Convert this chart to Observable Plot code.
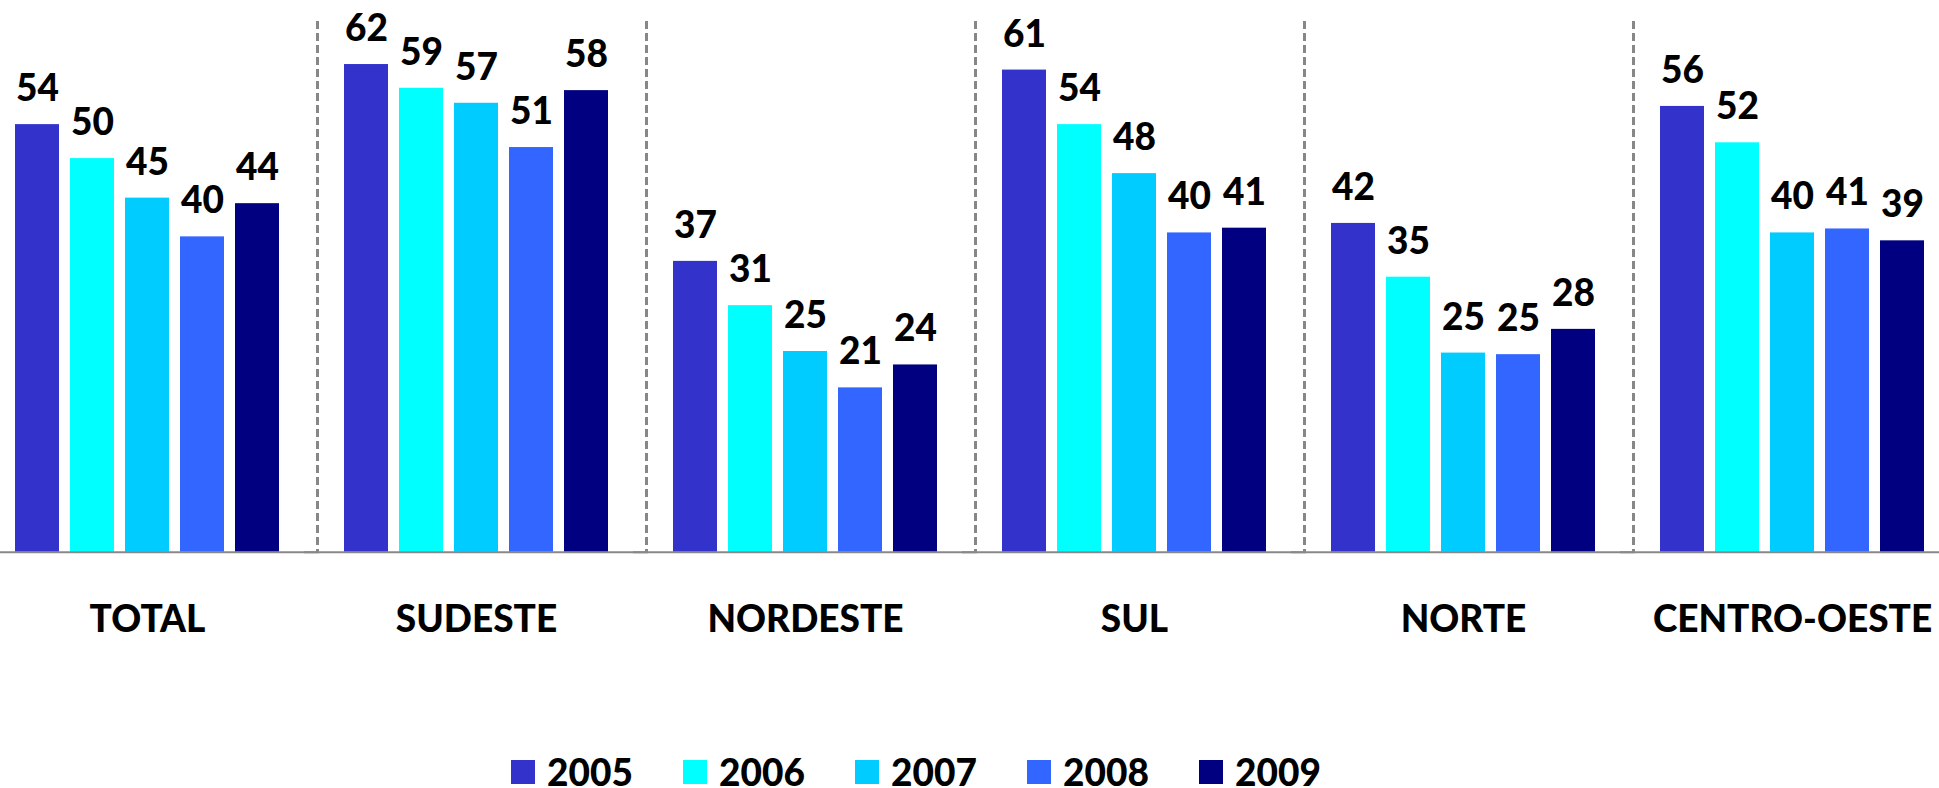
<!DOCTYPE html>
<html>
<head>
<meta charset="utf-8">
<script src="https://cdn.jsdelivr.net/npm/d3@7"></script>
<script src="https://cdn.jsdelivr.net/npm/@observablehq/plot@0.6"></script>
<style>
  html, body { margin: 0; padding: 0; background: #fff; }
  body { width: 1939px; height: 788px; overflow: hidden; font-family: Lato, "Open Sans", sans-serif; }
  #legend { box-sizing: border-box; height: 48px; padding-top: 16px; padding-left: 511px; display: flex; align-items: center; }
  .item { display: flex; align-items: center; width: 172px; flex: none; }
  .sw { width: 24px; height: 24px; margin-right: 12px; flex: none; }
  .lab { font-size: 37px; font-weight: 900; line-height: 28px; color: #000; }
</style>
</head>
<body>
<div id="chart"></div>
<div id="legend"></div>
<script>
const regions = ["TOTAL", "SUDESTE", "NORDESTE", "SUL", "NORTE", "CENTRO-OESTE"];
const years = ["2005", "2006", "2007", "2008", "2009"];
const colors = ["#3333CC", "#00FFFF", "#00CCFF", "#3366FF", "#000080"];

const v2005 = [54.1, 61.7, 36.8, 61.0, 41.6, 56.4];
const v2006 = [49.8, 58.7, 31.2, 54.1, 34.8, 51.8];
const v2007 = [44.8, 56.8, 25.4, 47.9, 25.2, 40.4];
const v2008 = [39.9, 51.2, 20.8, 40.4, 25.0, 40.9];
const v2009 = [44.1, 58.4, 23.7, 41.0, 28.2, 39.4];
const series = [v2005, v2006, v2007, v2008, v2009];

const data = [];
regions.forEach((r, i) => years.forEach((y, j) => data.push({region: r, year: y, value: series[j][i]})));

const H = 740;
const base = 551.8;

const chart = Plot.plot({
  width: 1939,
  height: H,
  marginLeft: 13,
  marginRight: 14,
  marginTop: 0,
  marginBottom: H - base,
  style: {fontFamily: "Lato, 'Open Sans', sans-serif", background: "white"},
  fx: {domain: regions, paddingInner: 0.199, paddingOuter: 0, axis: null, label: null},
  x: {domain: years, paddingInner: 0.2, paddingOuter: 0, axis: null, label: null},
  y: {domain: [0, 69.8], axis: null, label: null},
  color: {domain: years, range: colors},
  marks: [
    Plot.barY(data, {fx: "region", x: "year", y: "value", fill: "year"}),
    Plot.ruleX(regions.slice(1).map(r => ({region: r})), {
      fx: "region", x: () => years[0], dx: -49, insetTop: 21,
      stroke: "#878787", strokeWidth: 3, strokeDasharray: "8,4"
    }),
    Plot.ruleY([0], {stroke: "#888888", strokeWidth: 2, insetLeft: -40, insetRight: -40}),
    Plot.text(data, {
      fx: "region", x: "year", y: "value", text: d => String(Math.round(d.value)),
      lineAnchor: "bottom", dy: -23.5, fontSize: 37, fontWeight: 900, fill: "#000"
    }),
    Plot.text(regions, {
      fx: d => d, text: d => d, frameAnchor: "bottom", lineAnchor: "bottom", dy: 80,
      fontSize: 37, fontWeight: 900, fill: "#000"
    })
  ]
});
document.getElementById("chart").appendChild(chart);

const legend = document.getElementById("legend");
years.forEach((y, j) => {
  const item = document.createElement("div");
  item.className = "item";
  const sw = document.createElement("div");
  sw.className = "sw";
  sw.style.background = colors[j];
  const lab = document.createElement("span");
  lab.className = "lab";
  lab.textContent = y;
  item.appendChild(sw);
  item.appendChild(lab);
  legend.appendChild(item);
});
</script>
</body>
</html>
